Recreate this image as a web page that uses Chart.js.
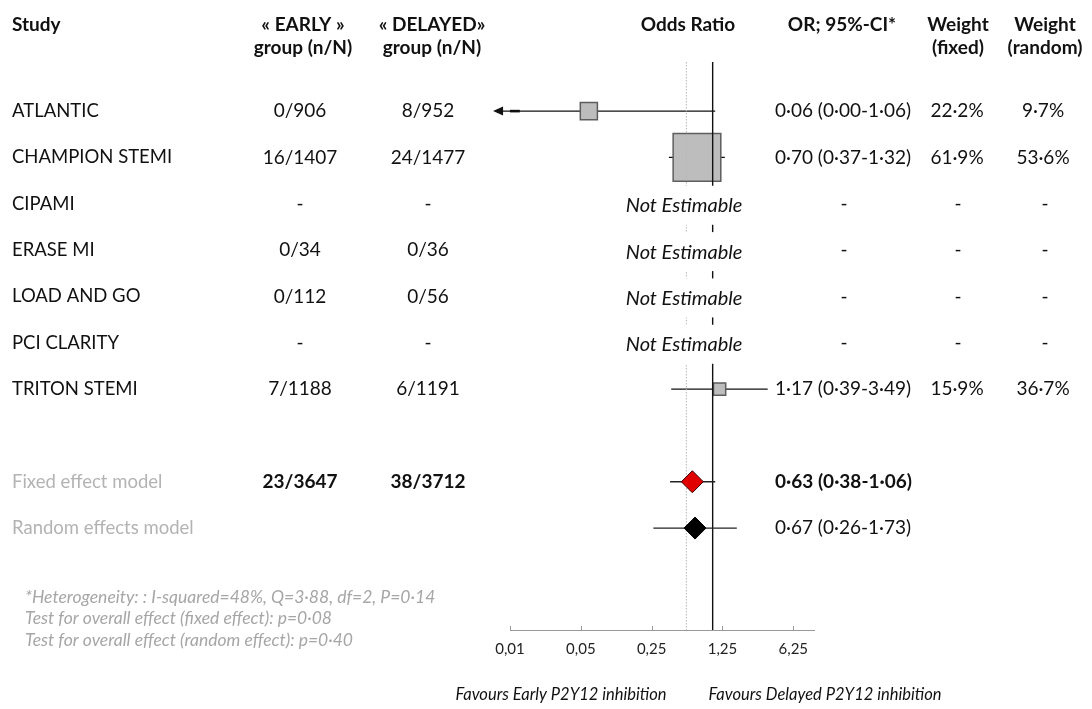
<!DOCTYPE html>
<html>
<head>
<meta charset="utf-8">
<script src="https://cdn.jsdelivr.net/npm/chart.js@4.4.0/dist/chart.umd.min.js"></script>
<style>
  html, body { margin: 0; padding: 0; background: #ffffff; }
  #wrap { width: 1092px; height: 709px; position: relative; }
</style>
</head>
<body>
<div id="wrap"><canvas id="forest" width="1092" height="709"></canvas></div>
<script>
// ---- Study data ----
const studies      = ['ATLANTIC', 'CHAMPION STEMI', 'CIPAMI', 'ERASE MI', 'LOAD AND GO', 'PCI CLARITY', 'TRITON STEMI'];
const earlyGroup   = ['0/906', '16/1407', '-', '0/34', '0/112', '-', '7/1188'];
const delayedGroup = ['8/952', '24/1477', '-', '0/36', '0/56', '-', '6/1191'];
const oddsRatio    = [0.06, 0.70, null, null, null, null, 1.17];
const ciLower      = [0.00, 0.37, null, null, null, null, 0.39];
const ciUpper      = [1.06, 1.32, null, null, null, null, 3.49];
const weightFixed  = [22.2, 61.9, null, null, null, null, 15.9];
const weightRandom = [9.7, 53.6, null, null, null, null, 36.7];

// ---- Pooled models ----
const models        = ['Fixed effect model', 'Random effects model'];
const modelEarly    = ['23/3647', ''];
const modelDelayed  = ['38/3712', ''];
const modelOR       = [0.63, 0.67];
const modelLower    = [0.38, 0.26];
const modelUpper    = [1.06, 1.73];

// ---- Axis ----
const xTicks      = [0.01, 0.05, 0.25, 1.25, 6.25];
const noEffectOR  = 1;
const guideOR     = 0.55;
const arrowFloor  = 0.0078;   // where a CI that reaches 0 is cut and marked with an arrow

const footnotes = [
  '*Heterogeneity: : I-squared=48%, Q=3\u00B788, df=2, P=0\u00B714',
  'Test for overall effect (fixed effect): p=0\u00B708',
  'Test for overall effect (random effect): p=0\u00B740'
];
const favours = ['Favours Early P2Y12 inhibition', 'Favours Delayed P2Y12 inhibition'];

// ---- Helpers ----
const FONT = 'Lato, "Open Sans", "Liberation Sans", sans-serif';
const dot = (v, d) => v.toFixed(d).replace('.', '\u00B7');
const orText = (o, l, u) => `${dot(o, 2)} (${dot(l, 2)}-${dot(u, 2)})`;
const modelRow = i => studies.length + 1 + i;   // one blank row before the models
const Y_MIN = -1.06, Y_MAX = 11.2;

// ---- Datasets ----
const datasets = [];

// pooled diamonds (drawn on top)
datasets.push({
  type: 'scatter', order: 0,
  data: modelOR.map((v, i) => ({ x: v, y: modelRow(i) })),
  pointStyle: 'rectRot',
  pointRadius: 11,
  backgroundColor: ['#e00000', '#000000'],
  borderColor: ['#3a0000', '#000000'],
  borderWidth: 1
});

// pooled confidence intervals
models.forEach((m, i) => {
  datasets.push({
    type: 'line', order: 1,
    data: [{ x: modelLower[i], y: modelRow(i) }, { x: modelUpper[i], y: modelRow(i) }],
    borderColor: '#222', borderWidth: 1.3, pointRadius: 0
  });
});

// no-effect line and dotted guide
datasets.push({
  type: 'line', order: 2,
  data: [{ x: noEffectOR, y: Y_MIN }, { x: noEffectOR, y: Y_MAX }],
  borderColor: '#111', borderWidth: 1.4, pointRadius: 0
});
datasets.push({
  type: 'line', order: 2,
  data: [{ x: guideOR, y: Y_MIN }, { x: guideOR, y: Y_MAX }],
  borderColor: '#b5b5b5', borderWidth: 1, borderDash: [1.5, 1.5], pointRadius: 0
});

// study squares, sized by fixed-effect weight
const sq = [];
oddsRatio.forEach((v, i) => { if (v !== null) sq.push({ x: v, y: i, w: weightFixed[i] }); });
datasets.push({
  type: 'scatter', order: 3,
  data: sq,
  pointStyle: 'rect',
  pointRadius: c => (c.raw ? c.raw.w * 0.77 / Math.SQRT2 : 0),
  backgroundColor: '#bdbdbd',
  borderColor: '#5e5e5e',
  borderWidth: 1.5
});

// study confidence intervals
oddsRatio.forEach((v, i) => {
  if (v === null) return;
  const lo = ciLower[i] > 0 ? ciLower[i] : arrowFloor;
  datasets.push({
    type: 'line', order: 4, clip: false,
    data: [{ x: lo, y: i }, { x: ciUpper[i], y: i }],
    borderColor: '#111', borderWidth: 1.3, pointRadius: 0
  });
  if (!(ciLower[i] > 0)) {
    datasets.push({
      type: 'line', order: 4, clip: false,
      data: [{ x: 0.01, y: i }, { x: 0.0125, y: i }],
      borderColor: '#111', borderWidth: 2.6, pointRadius: 0
    });
  }
});

// ---- Table text, panels and axis details ----
const forestTable = {
  id: 'forestTable',
  afterDatasetsDraw(chart) {
    const { ctx, scales: { x, y } } = chart;
    ctx.save();
    // arrowheads for intervals cut at the left edge
    oddsRatio.forEach((v, i) => {
      if (v === null || ciLower[i] > 0) return;
      const px = x.getPixelForValue(arrowFloor), py = y.getPixelForValue(i);
      ctx.fillStyle = '#111';
      ctx.beginPath();
      ctx.moveTo(px - 6, py);
      ctx.lineTo(px + 4, py - 4.5);
      ctx.lineTo(px + 4, py + 4.5);
      ctx.closePath();
      ctx.fill();
    });
    // white panels behind "Not Estimable"
    oddsRatio.forEach((v, i) => {
      if (v !== null) return;
      const cy = y.getPixelForValue(i) + 2;
      ctx.fillStyle = '#ffffff';
      ctx.fillRect(x.getPixelForValue(0.1), cy - 20, x.getPixelForValue(3) - x.getPixelForValue(0.1), 39);
    });
    ctx.restore();
  },
  afterDraw(chart) {
    const { ctx, scales: { x, y } } = chart;
    ctx.save();
    ctx.textBaseline = 'middle';
    const txt = (s, px, py, align, font, color) => {
      ctx.font = font; ctx.fillStyle = color || '#111'; ctx.textAlign = align;
      ctx.fillText(s, px, py);
    };
    const H = `bold 19px ${FONT}`;
    const T = `18.5px ${FONT}`;
    const N = `19px ${FONT}`, NB = `bold 19px ${FONT}`;
    const I = `italic 20px ${FONT}`;

    // headers
    txt('Study', 12, 25, 'left', H);
    txt('\u00AB EARLY \u00BB', 303, 25, 'center', H);
    txt('group (n/N)', 303, 48, 'center', H);
    txt('\u00AB DELAYED\u00BB', 432, 25, 'center', H);
    txt('group (n/N)', 432, 48, 'center', H);
    txt('Odds Ratio', 688, 25, 'center', H);
    txt('OR; 95%-CI*', 842, 25, 'center', H);
    txt('Weight', 958, 25, 'center', H);
    txt('(fixed)', 958, 48, 'center', H);
    txt('Weight', 1045, 25, 'center', H);
    txt('(random)', 1045, 48, 'center', H);

    // study rows
    studies.forEach((s, i) => {
      const py = y.getPixelForValue(i);
      txt(s, 12, py, 'left', T);
      txt(earlyGroup[i], 300, py, 'center', N);
      txt(delayedGroup[i], 428, py, 'center', N);
      if (oddsRatio[i] === null) {
        txt('Not Estimable', 684, py + 2, 'center', I);
        txt('-', 844, py, 'center', N);
        txt('-', 958, py, 'center', N);
        txt('-', 1045, py, 'center', N);
      } else {
        txt(orText(oddsRatio[i], ciLower[i], ciUpper[i]), 775, py, 'left', N);
        txt(dot(weightFixed[i], 1) + '%', 957, py, 'center', N);
        txt(dot(weightRandom[i], 1) + '%', 1043, py, 'center', N);
      }
    });

    // model rows
    models.forEach((m, i) => {
      const py = y.getPixelForValue(modelRow(i));
      const bold = i === 0;
      txt(m, 12, py, 'left', T, '#b3b3b3');
      if (modelEarly[i]) txt(modelEarly[i], 300, py, 'center', bold ? NB : N);
      if (modelDelayed[i]) txt(modelDelayed[i], 428, py, 'center', bold ? NB : N);
      txt(orText(modelOR[i], modelLower[i], modelUpper[i]), 775, py, 'left', bold ? NB : N);
    });

    // footnotes
    footnotes.forEach((f, i) => txt(f, 25, 597 + i * 21.5, 'left', `italic 17.5px ${FONT}`, '#a6a6a6'));

    // small upward tick marks on the odds-ratio axis
    ctx.strokeStyle = '#9a9a9a'; ctx.lineWidth = 1;
    x.ticks.forEach(t => {
      const px = Math.round(x.getPixelForValue(t.value)) + 0.5;
      ctx.beginPath(); ctx.moveTo(px, x.top - 4); ctx.lineTo(px, x.top); ctx.stroke();
    });

    // direction labels
    txt(favours[0], 561, 695, 'center', `italic 16.5px ${FONT}`, '#111');
    txt(favours[1], 825, 695, 'center', `italic 16.5px ${FONT}`, '#111');
    ctx.restore();
  }
};

new Chart(document.getElementById('forest'), {
  type: 'scatter',
  data: { datasets },
  plugins: [forestTable],
  options: {
    responsive: false,
    animation: false,
    events: [],
    layout: { padding: { left: 510, right: 278, top: 62, bottom: 41 } },
    plugins: { legend: { display: false }, tooltip: { enabled: false } },
    scales: {
      x: {
        type: 'logarithmic',
        min: 0.01, max: 10,
        afterBuildTicks: s => { s.ticks = xTicks.map(v => ({ value: v })); },
        grid: { display: false, drawTicks: false },
        border: { display: true, color: '#9a9a9a', width: 1 },
        ticks: {
          padding: 10,
          color: '#222',
          font: { family: FONT, size: 15 },
          callback: v => String(v).replace('.', ','),
          maxRotation: 0, autoSkip: false
        }
      },
      y: {
        type: 'linear', reverse: true, display: false,
        min: Y_MIN, max: Y_MAX
      }
    }
  }
});
</script>
</body>
</html>
